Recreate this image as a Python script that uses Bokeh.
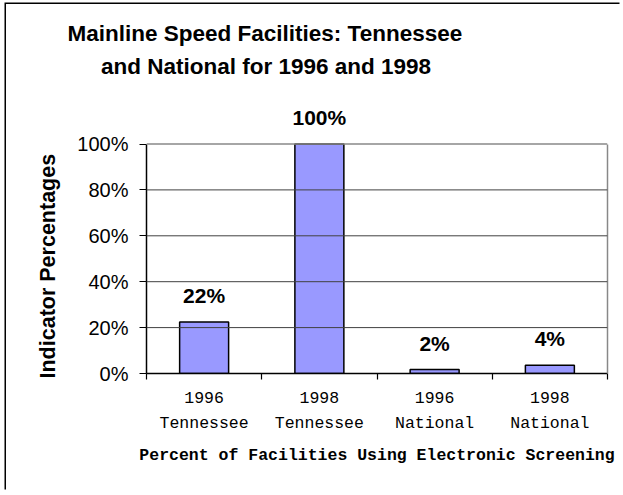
from bokeh.plotting import figure
from bokeh.models import (ColumnDataSource, LabelSet, FixedTicker, Range1d,
                          Span, Title, LinearAxis)
from bokeh.core.properties import value
from bokeh.embed import file_html
from bokeh.resources import INLINE

# ---- data ----
years = ["1996", "1998", "1996", "1998"]
regions = ["Tennessee", "Tennessee", "National", "National"]
values = [22.4, 100.0, 1.7, 3.6]
value_labels = ["22%", "100%", "2%", "4%"]
y_ticks = [0, 20, 40, 60, 80, 100]
title_lines = ["Mainline Speed Facilities: Tennessee", "and National for 1996 and 1998"]
y_title = "Indicator Percentages"
x_title = "Percent of Facilities Using Electronic Screening"

W, H = 615, 487
n = len(values)
xs = [i + 0.5 for i in range(n)]
src = ColumnDataSource(dict(x=xs, top=values, lab=value_labels))

y_end = 100 * 268 / 229.5

p = figure(width=W, height=H, output_backend="svg", toolbar_location=None,
           x_range=Range1d(0, n), y_range=Range1d(0, y_end),
           min_border_left=140, min_border_right=14, min_border_top=101, min_border_bottom=118,
           title=None, x_axis_type=None, y_axis_type=None)
p.styles = {"position": "absolute", "left": "6px", "top": "4px",
            "box-shadow": "-1.5px -1.5px 0 0 #000000"}
p.background_fill_color = "white"
p.border_fill_color = "white"
p.outline_line_color = None

# grid lines (dark) and plot-area border (gray)
p.xgrid.grid_line_color = None
p.ygrid.grid_line_color = None
for t in y_ticks[1:-1]:
    p.add_layout(Span(location=t, dimension="width", line_color="#404040", line_width=1))
p.add_layout(Span(location=y_ticks[-1], dimension="width", line_color="#888888", line_width=1.5))

p.vbar(x="x", top="top", width=0.425, source=src, fill_color="#9999FF",
       line_color="black", line_width=1.5)

# y axis
yax = LinearAxis(ticker=FixedTicker(ticks=y_ticks), bounds=(0, 100),
                 major_label_overrides={t: f"{t}%" for t in y_ticks})
yax.major_label_text_font = "Liberation Sans"
yax.major_label_text_font_size = "20px"
yax.major_label_text_color = "black"
yax.major_tick_out = 7
yax.major_tick_in = 0
yax.minor_tick_line_color = None
yax.major_label_standoff = 11
yax.axis_line_color = "black"
yax.axis_line_width = 1.5
yax.major_tick_line_width = 1.2
p.add_layout(yax, "left")

# right border of plot area
rax = LinearAxis(ticker=FixedTicker(ticks=[]), bounds=(0, 100))
rax.axis_line_color = "#888888"
rax.axis_line_width = 1.5
rax.major_tick_line_color = None
rax.minor_tick_line_color = None
p.add_layout(rax, "right")

# x axis: labels at bar centres, ticks at category boundaries
xax = LinearAxis(ticker=FixedTicker(ticks=xs, minor_ticks=list(range(n + 1))),
                 major_label_overrides={x: f"{y}\n{r}" for x, y, r in zip(xs, years, regions)})
xax.major_label_text_font = "Liberation Mono"
xax.major_label_text_font_size = "16.5px"
xax.major_label_text_color = "black"
xax.major_label_text_line_height = 1.32
xax.major_tick_line_color = None
xax.minor_tick_out = 6
xax.minor_tick_in = 0
xax.minor_tick_line_color = "black"
xax.minor_tick_line_width = 1.2
xax.major_label_standoff = 9
xax.axis_line_color = "black"
xax.axis_line_width = 1.5
xax.axis_label = x_title
xax.axis_label_text_font = "Liberation Mono"
xax.axis_label_text_font_style = "bold"
xax.axis_label_text_font_size = "16.5px"
xax.axis_label_text_color = "black"
xax.axis_label_standoff = 10
p.add_layout(xax, "below")

# bar value labels
p.add_layout(LabelSet(x="x", y="top", text="lab", source=src, y_offset=19,
                      text_align="center", text_baseline="alphabetic",
                      text_font=value("Liberation Sans"), text_font_style="bold",
                      text_font_size="21px", text_color="black"))

# y title
p.add_layout(Title(text=y_title, align="left", offset=-5, standoff=29,
                   text_font="Liberation Sans", text_font_style="bold",
                   text_font_size="21.5px", text_color="black"), "left")

# chart title (second line first: later titles stack further out)
for line, off, st in [(title_lines[1], -45.5, 54), (title_lines[0], -79, -42)]:
    p.add_layout(Title(text=line, align="left", offset=off, standoff=st,
                       text_font="Liberation Sans", text_font_style="bold",
                       text_font_size="22.5px", text_color="black"), "above")

open("out.html", "w").write(file_html(p, INLINE))
